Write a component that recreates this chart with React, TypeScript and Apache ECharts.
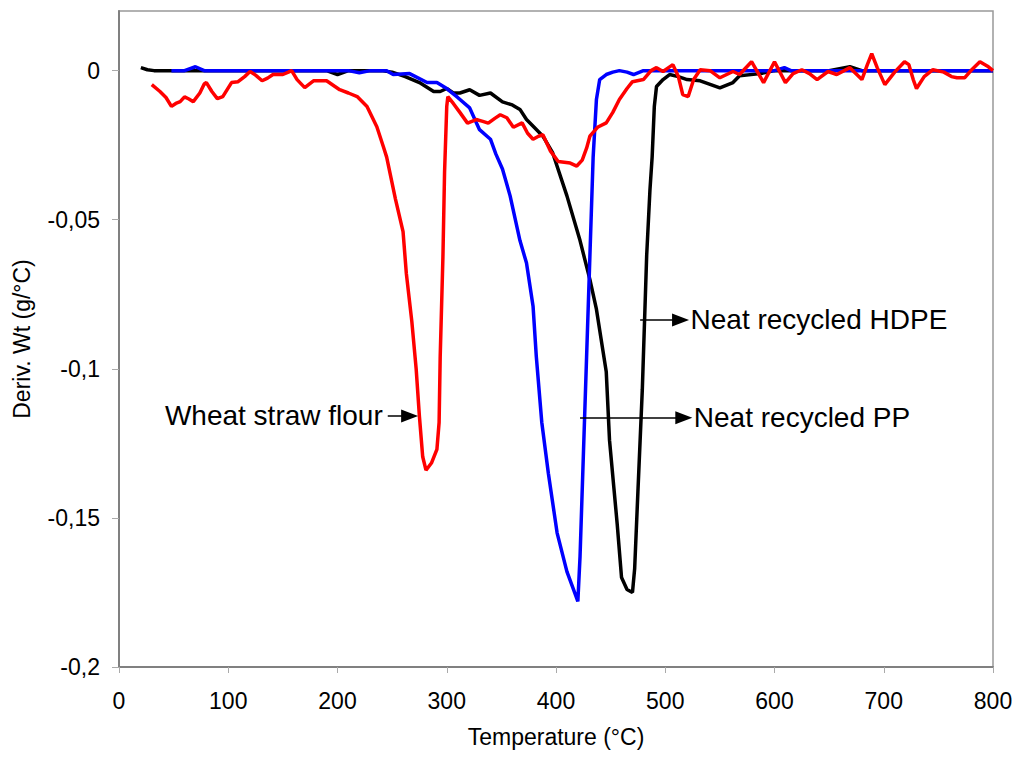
import React, { useEffect, useRef } from "react";
import * as echarts from "echarts";

const xTicks = [0, 100, 200, 300, 400, 500, 600, 700, 800];
const yTicks = [-0.2, -0.15, -0.1, -0.05, 0];

const hdpeName = "Neat recycled HDPE";
const ppName = "Neat recycled PP";
const wheatName = "Wheat straw flour";

const hdpeData: [number, number][] = [
  [20, 0.001], [26, 0.0003], [32, 0], [60, 0], [100, 0], [150, 0], [190, 0], [200, -0.0013], [210, 0],
  [240, 0], [250, -0.0005], [262, -0.002], [275, -0.004], [288, -0.007], [294, -0.007], [300, -0.006],
  [306, -0.0075], [312, -0.0075], [321, -0.0064], [330, -0.0083], [340, -0.0075], [351, -0.0105],
  [360, -0.0115], [367, -0.013], [373, -0.0164], [380, -0.019], [388, -0.022], [397, -0.0276],
  [410, -0.042], [422, -0.057], [431, -0.07], [437, -0.08], [443, -0.094], [446, -0.101], [449, -0.124],
  [453, -0.14], [456, -0.152], [460, -0.17], [465, -0.174], [470, -0.175], [472, -0.167], [475, -0.141],
  [479, -0.107], [483, -0.062], [486, -0.04], [488, -0.029], [490, -0.012], [492, -0.0053], [498, -0.003],
  [504, -0.0013], [512, -0.002], [520, -0.003], [532, -0.0034], [550, -0.0058], [562, -0.004],
  [568, -0.0017], [587, -0.001], [600, 0], [650, 0], [669, 0.0013], [680, 0], [800, 0],
];

const ppData: [number, number][] = [
  [48, 0], [60, 0], [70, 0.0013], [78, 0], [150, 0], [210, 0], [220, -0.0007], [230, 0], [245, 0],
  [251, -0.0013], [266, -0.001], [282, -0.004], [291, -0.004], [300, -0.006], [310, -0.009],
  [321, -0.0125], [330, -0.0198], [340, -0.023], [345, -0.028], [351, -0.033], [358, -0.042],
  [367, -0.057], [373, -0.0645], [379, -0.079], [382, -0.096], [387, -0.118], [393, -0.135],
  [401, -0.155], [410, -0.168], [416, -0.174], [420, -0.178], [422, -0.163], [425, -0.1295],
  [428, -0.096], [431, -0.0625], [434, -0.029], [437, -0.0097], [440, -0.003], [446, -0.0013],
  [452, -0.0005], [458, 0], [465, -0.0005], [471, -0.0013], [480, 0], [600, 0], [609, 0.001],
  [615, 0], [800, 0],
];

const wheatData: [number, number][] = [
  [30, -0.0047], [37.5, -0.007], [43, -0.009], [48, -0.012], [52, -0.011], [56, -0.0104], [60, -0.0088],
  [64, -0.0095], [68, -0.0104], [74, -0.0075], [78, -0.0045], [80, -0.004], [85, -0.007], [90, -0.0094],
  [95, -0.0087], [103, -0.004], [109, -0.0037], [115, -0.002], [120, -0.0003], [125, -0.0015],
  [131, -0.0034], [136, -0.0025], [141, -0.0013], [150, -0.0013], [155, -0.0005], [158, 0],
  [163, -0.003], [170, -0.0057], [178, -0.0034], [190, -0.0034], [202, -0.0064], [210, -0.0075],
  [218, -0.0087], [227, -0.012], [236, -0.0188], [242, -0.0255], [245, -0.029], [253, -0.043],
  [260, -0.054], [263, -0.068], [268, -0.084], [272, -0.1], [275, -0.116], [278, -0.1295],
  [281, -0.134], [286, -0.1316], [291, -0.127], [293, -0.118], [294, -0.096], [296.5, -0.0624],
  [298, -0.034], [300, -0.012], [301, -0.0087], [306, -0.011], [312, -0.014], [319, -0.0176],
  [327, -0.0164], [333, -0.017], [338, -0.0176], [344, -0.016], [349, -0.0148], [355, -0.0158],
  [361, -0.019], [369, -0.0175], [374, -0.021], [379, -0.023], [384, -0.022], [388, -0.0215],
  [395, -0.027], [402, -0.0305], [413, -0.031], [419, -0.032], [424, -0.03], [428, -0.026],
  [431, -0.022], [438, -0.019], [446, -0.0175], [452, -0.014], [458, -0.0097], [465, -0.006],
  [470, -0.0037], [480, -0.003], [487, 0], [492, 0.001], [498, -0.0003], [503, 0.001], [507, 0.002],
  [512, -0.002], [516, -0.008], [521, -0.0087], [526, -0.003], [532, 0.0003], [541, 0], [550, -0.0024],
  [562, -0.0003], [568, -0.0013], [579, 0.003], [590, -0.004], [600, 0.003], [610, -0.004],
  [617, -0.001], [625, 0.0003], [632, -0.001], [639, -0.003], [649, -0.0003], [657, -0.0013],
  [669, 0.001], [680, -0.003], [685, 0.002], [689, 0.0057], [694, 0.001], [701, -0.0047],
  [710, -0.0005], [719, 0.003], [723, 0.002], [727, -0.003], [730, -0.006], [737, -0.002],
  [745, 0.0003], [755, -0.0005], [762, -0.002], [767, -0.0024], [774, -0.0024], [781, 0.0005],
  [788, 0.003], [795, 0.0015], [800, 0],
];

// annotation arrows: [xStart, xEnd, y]
const wheatArrow = [246, 266, -0.1158];
const hdpeArrow = [477, 514, -0.0836];
const ppArrow = [422, 517, -0.1164];

const FONT = "Liberation Sans, Arial, sans-serif";

function arrowMark(a: number[], text: string, pos: "start" | "end", dist: number) {
  return {
    silent: true,
    animation: false,
    symbol: ["none", "triangle"],
    symbolSize: [13, 17],
    lineStyle: { color: "#000", width: 1.5, type: "solid" },
    itemStyle: { color: "#000" },
    label: {
      show: true,
      position: pos,
      distance: dist,
      formatter: text,
      color: "#000",
      fontSize: 28,
      fontFamily: FONT,
    },
    emphasis: { disabled: true },
    data: [[{ coord: [a[0], a[2]] }, { coord: [a[1], a[2]] }]],
  };
}

export default function App() {
  const ref = useRef<HTMLDivElement>(null);
  useEffect(() => {
    if (!ref.current) return;
    const chart = echarts.init(ref.current, undefined, { renderer: "svg" });
    const fmt = (v: number) => String(Number(v.toFixed(3))).replace(".", ",");
    chart.setOption({
      animation: false,
      backgroundColor: "#fff",
      grid: {
        left: 119,
        top: 11,
        right: 31,
        bottom: 99,
        show: true,
        borderColor: "#999",
        borderWidth: 1.5,
      },
      xAxis: {
        type: "value",
        min: 0,
        max: 800,
        interval: 100,
        name: "Temperature (°C)",
        nameLocation: "middle",
        nameGap: 58,
        nameTextStyle: { color: "#000", fontSize: 23, fontFamily: FONT },
        axisLine: { show: true, onZero: false, lineStyle: { color: "#808080", width: 2 } },
        axisTick: { show: true, length: 6, lineStyle: { color: "#aaa", width: 1 }, customValues: xTicks },
        axisLabel: { color: "#000", fontSize: 23, fontFamily: FONT, margin: 22, customValues: xTicks },
        splitLine: { show: false },
      },
      yAxis: {
        type: "value",
        min: -0.2,
        max: 0.02,
        name: "Deriv. Wt (g/°C)",
        nameLocation: "middle",
        nameGap: 86,
        nameRotate: 90,
        nameTextStyle: { color: "#000", fontSize: 23, fontFamily: FONT },
        axisLine: { show: true, onZero: false, lineStyle: { color: "#808080", width: 2 } },
        axisTick: { show: true, length: 7, lineStyle: { color: "#aaa", width: 1 }, customValues: yTicks },
        axisLabel: {
          color: "#000",
          fontSize: 23,
          fontFamily: FONT,
          margin: 19,
          customValues: yTicks,
          formatter: fmt,
        },
        splitLine: { show: false },
      },
      series: [
        {
          name: hdpeName,
          type: "line",
          data: hdpeData,
          showSymbol: false,
          lineStyle: { color: "#000", width: 3.5 },
          itemStyle: { color: "#000" },
          markLine: arrowMark(hdpeArrow, hdpeName, "end", 10),
        },
        {
          name: ppName,
          type: "line",
          data: ppData,
          showSymbol: false,
          lineStyle: { color: "#0000ff", width: 3.5 },
          itemStyle: { color: "#0000ff" },
          markLine: arrowMark(ppArrow, ppName, "end", 10),
        },
        {
          name: wheatName,
          type: "line",
          data: wheatData,
          showSymbol: false,
          lineStyle: { color: "#ff0000", width: 3.5 },
          itemStyle: { color: "#ff0000" },
          markLine: arrowMark(wheatArrow, wheatName, "start", 5),
        },
      ],
    });
    return () => chart.dispose();
  }, []);
  return (
    <div
      ref={ref}
      style={{ position: "absolute", left: 0, top: 0, width: 1024, height: 766, background: "#fff" }}
    />
  );
}
